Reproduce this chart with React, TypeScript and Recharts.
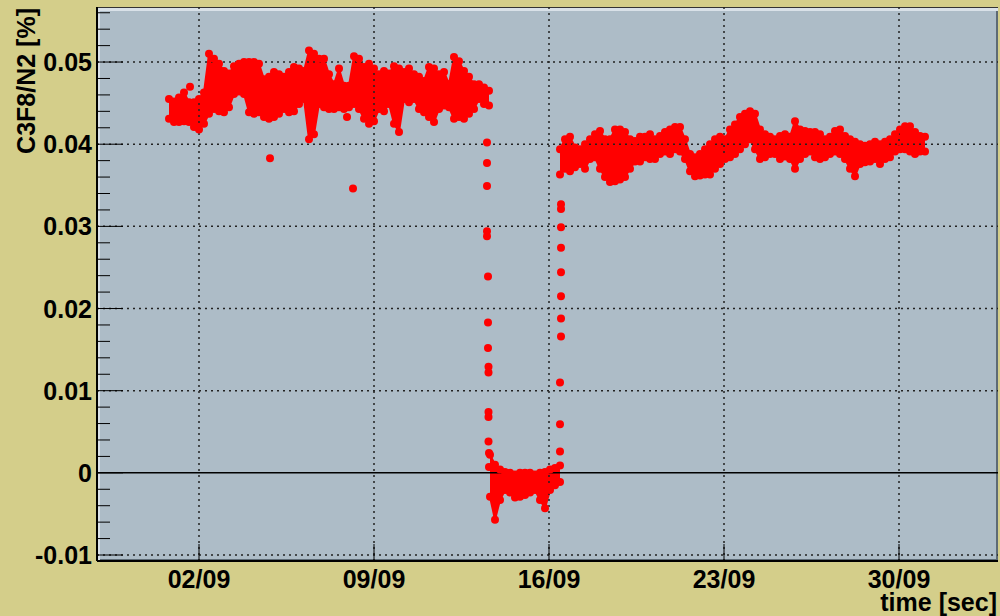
import { ComposedChart, XAxis, YAxis, Area, Scatter, ReferenceLine } from "recharts";

// time axis: day of September (fractional)
const xTicks = [2, 9, 16, 23, 30];
const xTickLabels = ["02/09", "09/09", "16/09", "23/09", "30/09"];
const yTicks = [
  -0.01, -0.008, -0.006, -0.004, -0.002, 0, 0.002, 0.004, 0.006, 0.008, 0.01, 0.012, 0.014, 0.016, 0.018,
  0.02, 0.022, 0.024, 0.026, 0.028, 0.03, 0.032, 0.034, 0.036, 0.038, 0.04, 0.042, 0.044, 0.046, 0.048,
  0.05, 0.052, 0.054, 0.056,
];
const yMajor = [-0.01, 0.01, 0.02, 0.03, 0.04, 0.05];

const STEP = 0.2;

// first plateau, sampled every 0.2 day from 0.8
const seg1Start = 0.8;
const seg1Hi = [
  0.0455, 0.0452, 0.0457, 0.0463, 0.0451, 0.0451, 0.0455, 0.0463, 0.051, 0.0504,
  0.0498, 0.0489, 0.0486, 0.0495, 0.0498, 0.05, 0.05, 0.05, 0.0498, 0.0479,
  0.0482, 0.0488, 0.0485, 0.0482, 0.0488, 0.0494, 0.0492, 0.0489, 0.0514, 0.051,
  0.0504, 0.0504, 0.0485, 0.0473, 0.0492, 0.0471, 0.0471, 0.0507, 0.0504, 0.0494,
  0.0498, 0.0492, 0.0485, 0.0489, 0.0486, 0.0495, 0.0492, 0.0488, 0.0492, 0.0485,
  0.0482, 0.0477, 0.0494, 0.0492, 0.0485, 0.0488, 0.0473, 0.0506, 0.0501, 0.0489,
  0.0482, 0.0473, 0.0473, 0.0469, 0.0465,
];
const seg1Lo = [
  0.0431, 0.0427, 0.0427, 0.0428, 0.0427, 0.0421, 0.0418, 0.0425, 0.0437, 0.0443,
  0.044, 0.0439, 0.0445, 0.0461, 0.0464, 0.0461, 0.0439, 0.0437, 0.0439, 0.0433,
  0.0431, 0.0433, 0.0437, 0.0443, 0.0439, 0.044, 0.0449, 0.0455, 0.0406, 0.0412,
  0.0449, 0.0445, 0.0443, 0.0443, 0.0445, 0.0443, 0.0445, 0.0449, 0.0443, 0.0431,
  0.0425, 0.0428, 0.0443, 0.044, 0.0449, 0.0425, 0.0415, 0.0455, 0.0451, 0.0455,
  0.0443, 0.0439, 0.0433, 0.0427, 0.0443, 0.0447, 0.0445, 0.0431, 0.0433, 0.0431,
  0.0437, 0.0443, 0.0455, 0.0449, 0.0447,
];

// empty period around zero
const lowStart = 13.64;
const lowHi = [0.0022, 0.001, 0.0004, 0.0001, 0, -0.0002, 0, 0, 0, -0.0002, 0, 0.0001, 0.0004, 0.0006, 0.0009];
const lowLo = [-0.0029, -0.0057, -0.0033, -0.0021, -0.0024, -0.003, -0.0029, -0.0027, -0.0024, -0.0021, -0.0033, -0.0043, -0.0021, -0.0015, -0.0011];

// second plateau
const seg3Start = 16.44;
const seg3Hi = [
  0.0394, 0.0406, 0.0409, 0.0396, 0.0394, 0.04, 0.0406, 0.0412, 0.0416, 0.0406,
  0.0406, 0.0418, 0.0418, 0.0415, 0.0406, 0.0404, 0.0409, 0.0409, 0.0412, 0.0406,
  0.041, 0.0415, 0.0418, 0.0421, 0.0421, 0.0406, 0.0388, 0.0384, 0.0388, 0.0394,
  0.04, 0.0406, 0.0409, 0.0406, 0.0418, 0.0424, 0.0433, 0.0437, 0.044, 0.0437,
  0.0418, 0.0412, 0.0409, 0.0406, 0.041, 0.0412, 0.0409, 0.0428, 0.0418, 0.0416,
  0.0415, 0.0415, 0.0412, 0.0406, 0.0409, 0.0416, 0.0418, 0.041, 0.0406, 0.0403,
  0.04, 0.0398, 0.04, 0.0403, 0.04, 0.0403, 0.0406, 0.0412, 0.0418, 0.0422,
  0.0422, 0.0415, 0.041, 0.0409,
];
const seg3Lo = [
  0.0363, 0.037, 0.0367, 0.0372, 0.0376, 0.037, 0.0382, 0.0384, 0.037, 0.036,
  0.0354, 0.0355, 0.0357, 0.036, 0.037, 0.0379, 0.0379, 0.0384, 0.0382, 0.0382,
  0.0388, 0.0391, 0.0388, 0.0394, 0.0391, 0.0382, 0.0367, 0.0361, 0.0362, 0.0363,
  0.0363, 0.037, 0.0376, 0.0382, 0.0384, 0.0388, 0.0394, 0.04, 0.0406, 0.0394,
  0.0382, 0.0384, 0.0388, 0.0388, 0.0382, 0.0385, 0.0382, 0.037, 0.0382, 0.0388,
  0.0391, 0.0384, 0.0382, 0.0384, 0.0388, 0.0391, 0.0388, 0.0382, 0.037, 0.0361,
  0.0376, 0.0378, 0.0379, 0.0382, 0.0376, 0.0382, 0.0384, 0.0391, 0.0394, 0.0394,
  0.0391, 0.0388, 0.0391, 0.0391,
];

// isolated points (purge / refill and outliers)
const dropDays = [13.52, 13.52, 13.52, 13.52, 13.52, 13.56, 13.56, 13.56, 13.58, 13.58, 13.58, 13.58, 13.58, 13.6, 13.6];
const dropVals = [0.0402, 0.0377, 0.0349, 0.0294, 0.0288, 0.0239, 0.0183, 0.0152, 0.0129, 0.0122, 0.0074, 0.0068, 0.0038, 0.0024, 0.0007];
const riseDays = [16.44, 16.44, 16.44, 16.48, 16.48, 16.48, 16.48, 16.48, 16.48, 16.48, 16.48];
const riseVals = [0.0026, 0.0059, 0.011, 0.0166, 0.0188, 0.0215, 0.0244, 0.0274, 0.0299, 0.0321, 0.0327];
const outDays = [1.64, 4.84, 8.16, 7.92];
const outVals = [0.047, 0.0383, 0.0346, 0.0433];

const RED = "#ff0000";
const FONT = "'Liberation Sans', Arial, Helvetica, sans-serif";

const toRows = (start: number, hi: number[], lo: number[]) =>
  hi.map((h, i) => ({ day: +(start + i * STEP).toFixed(2), range: [lo[i], h] }));

const rows = [
  ...toRows(seg1Start, seg1Hi, seg1Lo),
  { day: 13.62, range: null },
  ...toRows(lowStart, lowHi, lowLo),
  { day: 16.44, range: null },
  ...toRows(seg3Start, seg3Hi, seg3Lo),
];

const edgePoints = rows
  .filter((r) => r.range)
  .flatMap((r) => [
    { day: r.day, v: (r.range as number[])[0] },
    { day: r.day, v: (r.range as number[])[1] },
  ]);

const single = [
  ...dropDays.map((d, i) => ({ day: d, v: dropVals[i] })),
  ...riseDays.map((d, i) => ({ day: d, v: riseVals[i] })),
  ...outDays.map((d, i) => ({ day: d, v: outVals[i] })),
];

const Dot = (p: any) => <circle cx={p.cx} cy={p.cy} r={4} fill={RED} />;

const YTick = (p: any) => {
  const v = p.payload.value;
  const major = Math.abs(v * 100 - Math.round(v * 100)) < 1e-6;
  return (
    <g>
      <line x1={p.x} x2={p.x + (major ? 26 : 13)} y1={p.y} y2={p.y} stroke="#000" strokeWidth={1} />
      {major && (
        <text x={p.x - 5} y={p.y + 9} textAnchor="end" fontFamily={FONT} fontWeight="bold" fontSize={25} fill="#000">
          {Math.abs(v) < 1e-9 ? "0" : String(+v.toFixed(2))}
        </text>
      )}
    </g>
  );
};

const XTick = (p: any) => {
  const idx = xTicks.indexOf(p.payload.value);
  return (
    <g>
      <line x1={p.x} x2={p.x} y1={p.y} y2={p.y - 17} stroke="#000" strokeWidth={1} />
      <text x={p.x} y={p.y + 27} textAnchor="middle" fontFamily={FONT} fontWeight="bold" fontSize={25} fill="#000">
        {xTickLabels[idx]}
      </text>
    </g>
  );
};

export default function App() {
  return (
    <div style={{ position: "absolute", left: 0, top: 0, width: 1000, height: 616, background: "#d4ce8a", overflow: "hidden" }}>
      {/* pad frame */}
      <div
        style={{
          position: "absolute",
          left: 97,
          top: 7,
          width: 901,
          height: 554,
          background: "#adbcc7",
          boxShadow: "inset 3px 3px 0 #d9e1e8, inset -2px -2px 0 #5d6a74",
          borderTop: "1px solid #333",
          boxSizing: "border-box",
        }}
      />
      <ComposedChart
        width={1000}
        height={616}
        data={rows}
        margin={{ top: 7, right: 2, bottom: 0, left: 0 }}
        style={{ position: "absolute", left: 0, top: 0 }}
      >
        <XAxis
          type="number"
          dataKey="day"
          domain={[-2.08, 33.96]}
          allowDataOverflow
          ticks={xTicks}
          tick={<XTick />}
          tickSize={0}
          tickMargin={0}
          height={55}
          axisLine={{ stroke: "#000", strokeWidth: 2 }}
          tickLine={false}
        />
        <YAxis
          type="number"
          dataKey="v"
          domain={[-0.01073, 0.0567]}
          allowDataOverflow
          ticks={yTicks}
          interval={0}
          tick={<YTick />}
          tickSize={0}
          tickMargin={0}
          width={97}
          axisLine={{ stroke: "#000", strokeWidth: 2 }}
          tickLine={false}
          label={{
            value: "C3F8/N2 [%]",
            angle: -90,
            position: "insideTopLeft",
            content: () => (
              <text
                transform="translate(35,8) rotate(-90)"
                textAnchor="end"
                fontFamily={FONT}
                fontWeight="bold"
                fontSize={25}
                fill="#000"
              >
                C3F8/N2 [%]
              </text>
            ),
          }}
        />
        {yMajor.map((y) => (
          <ReferenceLine key={"h" + y} y={y} stroke="#222" strokeDasharray="2 4" strokeWidth={1.5} />
        ))}
        {xTicks.map((x) => (
          <ReferenceLine key={"v" + x} x={x} stroke="#222" strokeDasharray="2 4" strokeWidth={1.5} />
        ))}
        <ReferenceLine y={0} stroke="#000" strokeWidth={1.5} />
        <Area
          type="linear"
          dataKey="range"
          stroke={RED}
          strokeWidth={2}
          fill={RED}
          fillOpacity={1}
          connectNulls={false}
          isAnimationActive={false}
          dot={false}
          activeDot={false}
        />
        <Scatter data={edgePoints} dataKey="v" shape={<Dot />} isAnimationActive={false} />
        <Scatter data={single} dataKey="v" shape={<Dot />} isAnimationActive={false} />
      </ComposedChart>
      <div
        style={{
          position: "absolute",
          right: 3,
          top: 594,
          fontFamily: FONT,
          fontWeight: "bold",
          fontSize: 25,
          lineHeight: "17px",
          whiteSpace: "nowrap",
        }}
      >
        time [sec]
      </div>
    </div>
  );
}
